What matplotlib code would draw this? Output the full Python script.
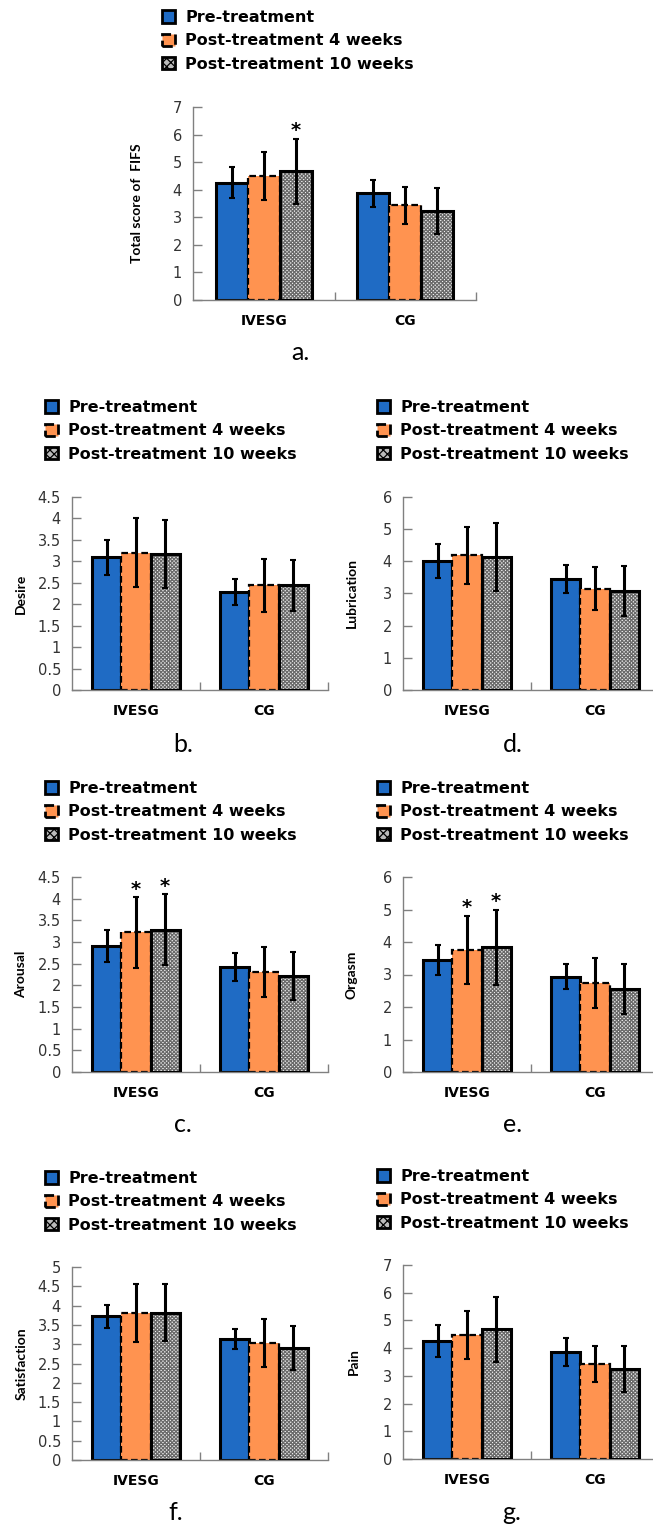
import numpy as np
import matplotlib
matplotlib.use('Agg')
import matplotlib.pyplot as plt
from matplotlib.patches import Patch
from matplotlib.font_manager import FontProperties

groups = ['IVESG', 'CG']
series = ['Pre-treatment', 'Post-treatment 4 weeks', 'Post-treatment 10 weeks']

# rows = series (pre, 4 weeks, 10 weeks), columns = groups (IVESG, CG)
total_mean = [[4.26, 3.87], [4.48, 3.43], [4.67, 3.23]]
total_err = [[0.57, 0.50], [0.87, 0.66], [1.18, 0.82]]
desire_mean = [[3.09, 2.29], [3.20, 2.44], [3.17, 2.44]]
desire_err = [[0.40, 0.30], [0.80, 0.61], [0.80, 0.60]]
lub_mean = [[4.01, 3.46], [4.19, 3.15], [4.14, 3.07]]
lub_err = [[0.52, 0.44], [0.88, 0.67], [1.05, 0.78]]
arousal_mean = [[2.91, 2.42], [3.22, 2.30], [3.28, 2.22]]
arousal_err = [[0.37, 0.32], [0.81, 0.58], [0.82, 0.56]]
orgasm_mean = [[3.45, 2.93], [3.76, 2.73], [3.84, 2.55]]
orgasm_err = [[0.45, 0.39], [1.05, 0.77], [1.15, 0.77]]
satis_mean = [[3.72, 3.13], [3.81, 3.02], [3.81, 2.91]]
satis_err = [[0.30, 0.26], [0.76, 0.62], [0.74, 0.57]]
pain_mean = [[4.26, 3.87], [4.47, 3.43], [4.68, 3.24]]
pain_err = [[0.57, 0.50], [0.87, 0.66], [1.18, 0.82]]

W, H = 653, 1528
BLUE = '#1f6bc4'
ORANGE = '#ff9350'
AXC = '#808080'

plt.rcParams['hatch.linewidth'] = 0.9

fig = plt.figure(figsize=(W / 100, H / 100), dpi=100)


def fx(x):
    return x / W


def fy(y):
    return 1 - y / H


def panel(box, means, errs, ymax, ystep, ylabel, stars, letter, leg, ylx, let_xy):
    left, right, top, bottom = box
    ax = fig.add_axes([fx(left), fy(bottom), (right - left) / W, (bottom - top) / H])
    x = np.arange(len(groups))
    w = 0.227
    for i in range(3):
        xi = x + (i - 1) * w
        if i == 0:
            ax.bar(xi, means[i], w, color=BLUE, edgecolor='black', linewidth=2.2, zorder=2)
        elif i == 1:
            ax.bar(xi, means[i], w, color=ORANGE, edgecolor='black', linewidth=1.6,
                   linestyle=(0, (3, 1.5)), zorder=2)
        else:
            ax.bar(xi, means[i], w, color='#f2f2f2', edgecolor='#6a6a6a', hatch='x' * 9,
                   linewidth=0, zorder=2)
            ax.bar(xi, means[i], w, fill=False, edgecolor='black', linewidth=2.2, zorder=3)
        ax.errorbar(xi, means[i], yerr=errs[i], fmt='none', ecolor='black',
                    elinewidth=2.2, capsize=2.5, capthick=1.5, zorder=4)
    for s, g in stars:
        xs = g + (s - 1) * w
        ax.annotate('*', (xs, means[s][g] + errs[s][g]), xytext=(0, -1),
                    textcoords='offset points', ha='center', va='bottom',
                    fontsize=14, fontweight='bold')

    ax.set_xlim(-0.5, len(groups) - 0.5)
    ax.set_ylim(0, ymax)
    ax.set_yticks(np.arange(0, ymax + ystep / 2, ystep))
    ax.yaxis.set_major_formatter(lambda v, p: f'{v:g}')
    ax.set_xticks(x, groups)
    ax.set_xticks([0.5, 1.5], minor=True)
    for t in ax.get_xticklabels():
        t.set_fontweight('bold')
        t.set_fontsize(10)
    ax.tick_params(axis='y', direction='in', length=6.5, width=1, color=AXC, pad=8,
                   labelsize=10.5, labelcolor='#333333')
    ax.tick_params(axis='x', which='major', length=0, pad=10)
    ax.tick_params(axis='x', which='minor', direction='in', length=6, width=1, color=AXC)
    for side in ['top', 'right']:
        ax.spines[side].set_visible(False)
    for side in ['left', 'bottom']:
        ax.spines[side].set_color(AXC)
        ax.spines[side].set_linewidth(1)

    ax.set_ylabel(ylabel, fontfamily='Lato', fontweight='bold', fontsize=10, va='center')
    ax.yaxis.set_label_coords((ylx - left) / (right - left), 0.5)

    handles = [
        Patch(facecolor=BLUE, edgecolor='black', linewidth=2),
        Patch(facecolor=ORANGE, edgecolor='black', linewidth=2, linestyle='--'),
        Patch(facecolor='#bbbbbb', edgecolor='black', linewidth=2, hatch='xxxx'),
    ]
    ax.legend(handles, series, loc='upper left', bbox_to_anchor=(fx(leg[0]), fy(leg[1])),
              bbox_transform=fig.transFigure, frameon=False, borderpad=0, borderaxespad=0,
              handlelength=0.8, handleheight=0.8, handletextpad=0.65, labelspacing=0.52,
              prop=FontProperties(family='DejaVu Sans', weight='bold', size=11.5))

    fig.text(fx(let_xy[0]), fy(let_xy[1]), letter, ha='center', va='baseline',
             family='Lato', size=18)
    return ax


panel((193, 476, 107, 300), total_mean, total_err, 7, 1, 'Total score of  FIFS',
      [(2, 0)], 'a.', (162, 10), 137, (300, 360))
panel((72, 328, 497, 690), desire_mean, desire_err, 4.5, 0.5, 'Desire',
      [], 'b.', (45, 400), 21, (183, 752))
panel((403, 659, 497, 690), lub_mean, lub_err, 6, 1, 'Lubrication',
      [], 'd.', (377, 400), 352, (513, 752))
panel((72, 328, 877, 1072), arousal_mean, arousal_err, 4.5, 0.5, 'Arousal',
      [(1, 0), (2, 0)], 'c.', (45, 781), 21, (183, 1132))
panel((403, 659, 877, 1072), orgasm_mean, orgasm_err, 6, 1, 'Orgasm',
      [(1, 0), (2, 0)], 'e.', (377, 781), 351, (513, 1132))
panel((72, 328, 1267, 1460), satis_mean, satis_err, 5, 0.5, 'Satisfaction',
      [], 'f.', (45, 1171), 22, (176, 1520))
panel((403, 659, 1265, 1459), pain_mean, pain_err, 7, 1, 'Pain',
      [], 'g.', (377, 1169), 354, (512, 1520))

fig.savefig('out.png', dpi=100)
